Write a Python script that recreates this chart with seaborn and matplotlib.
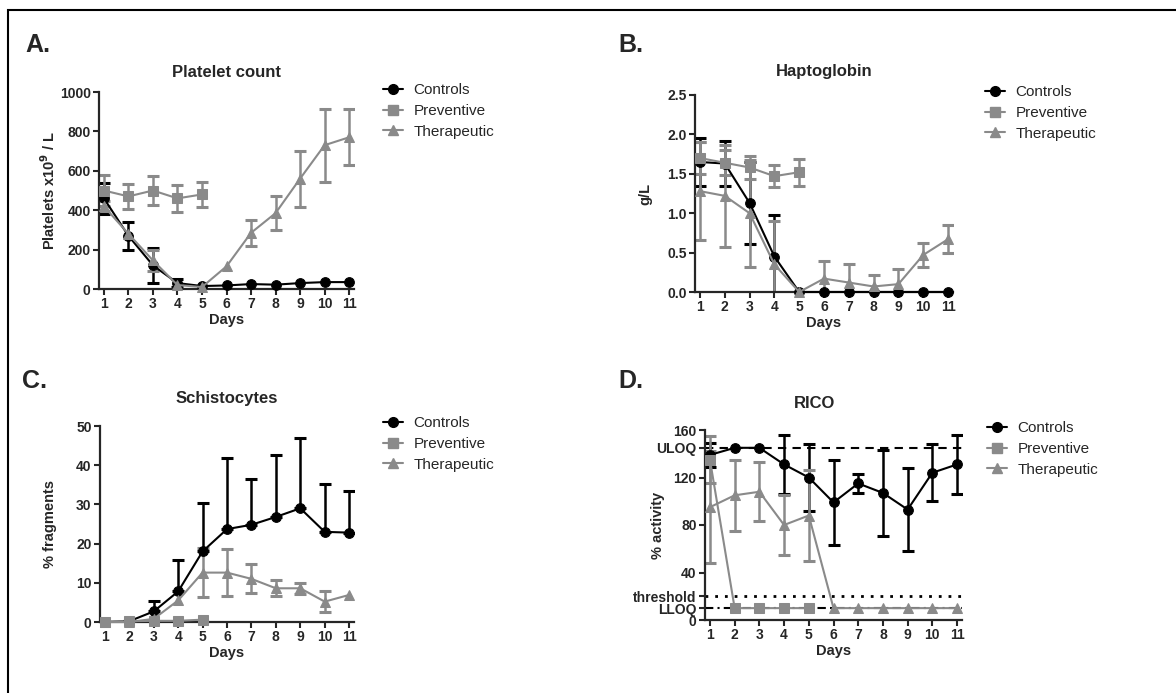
import matplotlib
matplotlib.use('Agg')
import matplotlib.pyplot as plt
from matplotlib.lines import Line2D
from matplotlib.patches import Rectangle
import seaborn as sns
import numpy as np

sns.set_style('ticks')
plt.rcParams['font.family'] = ['Liberation Sans', 'DejaVu Sans']

days = list(range(1, 12))
days_prev = list(range(1, 6))
groups = ['Controls', 'Preventive', 'Therapeutic']

# A. Platelet count (x10^9/L), mean and SD
plt_ctrl = [460, 270, 120, 30, 15, 18, 25, 22, 30, 35, 35]
plt_ctrl_sd = [80, 70, 90, 22, np.nan, np.nan, np.nan, np.nan, np.nan, np.nan, np.nan]
plt_prev = [500, 470, 500, 460, 480]
plt_prev_sd = [80, 65, 75, 68, 62]
plt_ther = [420, 280, 145, 20, 10, 115, 285, 385, 560, 730, 770]
plt_ther_sd = [25, np.nan, 55, np.nan, np.nan, np.nan, 65, 88, 142, 185, 143]

# B. Haptoglobin (g/L)
hp_ctrl = [1.65, 1.63, 1.13, 0.45, 0, 0, 0, 0, 0, 0, 0]
hp_ctrl_sd = [0.30, 0.29, 0.52, 0.53, np.nan, np.nan, np.nan, np.nan, np.nan, np.nan, np.nan]
hp_prev = [1.70, 1.64, 1.58, 1.47, 1.52]
hp_prev_sd = [0.20, 0.16, 0.15, 0.14, 0.17]
hp_ther = [1.28, 1.22, 1.00, 0.35, 0.0, 0.17, 0.12, 0.07, 0.10, 0.47, 0.67]
hp_ther_sd = [0.62, 0.65, 0.68, 0.55, np.nan, 0.22, 0.23, 0.14, 0.19, 0.15, 0.18]

# C. Schistocytes (% fragments), controls only show upper error
sc_ctrl = [0, 0.2, 2.7, 7.8, 18, 23.7, 24.8, 26.8, 29, 23, 22.8]
sc_ctrl_up = [np.nan, np.nan, 2.6, 7.9, 12.3, 18.2, 11.6, 15.9, 18, 12.3, 10.5]
sc_prev = [0, 0.2, 0.3, 0.3, 0.6]
sc_ther = [0, 0, 0.8, 5.5, 12.6, 12.6, 11, 8.6, 8.6, 5.2, 6.9]
sc_ther_sd = [np.nan, np.nan, np.nan, np.nan, 6.2, 6.0, 3.7, 2.0, 1.4, 2.7, np.nan]

# D. RICO (% activity)
rc_ctrl = [139, 145, 145, 131, 120, 99, 115, 107, 93, 124, 131]
rc_ctrl_sd = [10, np.nan, np.nan, 25, 28, 36, 8, 36, 35, 24, 25]
rc_prev = [135, 10, 10, 10, 10]
rc_prev_sd = [20, np.nan, np.nan, np.nan, np.nan]
rc_ther = [95, 105, 108, 80, 88, 10, 10, 10, 10, 10, 10]
rc_ther_sd = [47, 30, 25, 25, 38, np.nan, np.nan, np.nan, np.nan, np.nan, np.nan]
uloq, threshold, lloq = 145, 20, 10

BLACK = '#000000'
GREY = '#8a8a8a'
colors = {'Controls': BLACK, 'Preventive': GREY, 'Therapeutic': GREY}
markers = {'Controls': 'o', 'Preventive': 's', 'Therapeutic': '^'}


def draw_series(ax, x, y, name, err=None):
    c = colors[name]
    x = np.asarray(x, float)
    y = np.asarray(y, float)
    if err is not None:
        if isinstance(err, tuple):
            lo, hi = (np.asarray(e, float) for e in err)
        else:
            lo = hi = np.asarray(err, float)
        m = ~(np.isnan(lo) & np.isnan(hi))
        ax.errorbar(x[m], y[m], yerr=[np.nan_to_num(lo[m]), np.nan_to_num(hi[m])],
                    fmt='none', ecolor=c, elinewidth=1.8, capsize=4, capthick=2.2, zorder=2)
    sns.lineplot(x=x, y=y, ax=ax, color=c, marker=markers[name], markersize=7,
                 markeredgecolor=c, linewidth=1.5, clip_on=False, zorder=3,
                 legend=False, errorbar=None)


def style_axis(ax, ylim, yticks, ylabel, label_x):
    ax.set_xlim(0.8, 11.2)
    ax.set_ylim(*ylim)
    ax.set_xticks(days)
    ax.set_yticks(yticks)
    for s in ['top', 'right']:
        ax.spines[s].set_visible(False)
    for s in ['left', 'bottom']:
        ax.spines[s].set_linewidth(1.6)
    ax.tick_params(direction='out', length=4, width=1.5, labelsize=10, pad=2)
    for t in ax.get_xticklabels() + ax.get_yticklabels():
        t.set_fontweight('bold')
    ax.set_xlabel('Days', fontsize=10.5, fontweight='bold', labelpad=1)
    ax.set_ylabel(ylabel, fontsize=10.5, fontweight='bold')
    ax.yaxis.set_label_coords(label_x, 0.5)


def add_legend(ax, x, y):
    handles = [Line2D([], [], color=colors[g], marker=markers[g], markersize=7,
                      markeredgecolor=colors[g], lw=1.5) for g in groups]
    ax.legend(handles, groups, loc='upper left', bbox_to_anchor=(x, y),
              bbox_transform=fig.transFigure, frameon=False, fontsize=11,
              handlelength=1.3, handletextpad=0.7, labelspacing=0.45,
              borderpad=0, borderaxespad=0)


W, H = 1176, 693
fig = plt.figure(figsize=(W / 100, H / 100), dpi=100, facecolor='white')


def px_axes(x0, y0, x1, y1):
    return fig.add_axes([x0 / W, 1 - y1 / H, (x1 - x0) / W, (y1 - y0) / H])


# Panel A
ax_a = px_axes(99, 92, 354, 289)
draw_series(ax_a, days, plt_ctrl, 'Controls', plt_ctrl_sd)
draw_series(ax_a, days_prev, plt_prev, 'Preventive', plt_prev_sd)
draw_series(ax_a, days, plt_ther, 'Therapeutic', plt_ther_sd)
style_axis(ax_a, (0, 1000), [0, 200, 400, 600, 800, 1000],
           r'Platelets x10$^{\mathbf{9}}$ / L', -0.16)
add_legend(ax_a, 383 / W, 1 - 83 / H)

# Panel B
ax_b = px_axes(695, 95, 953, 292)
draw_series(ax_b, days, hp_ctrl, 'Controls', hp_ctrl_sd)
draw_series(ax_b, days_prev, hp_prev, 'Preventive', hp_prev_sd)
draw_series(ax_b, days, hp_ther, 'Therapeutic', hp_ther_sd)
style_axis(ax_b, (0, 2.5), [0, 0.5, 1.0, 1.5, 2.0, 2.5], 'g/L', -0.167)
ax_b.set_yticklabels(['0.0', '0.5', '1.0', '1.5', '2.0', '2.5'], fontweight='bold')
add_legend(ax_b, 985 / W, 1 - 85 / H)

# Panel C
ax_c = px_axes(100, 426, 354, 622)
draw_series(ax_c, days, sc_ctrl, 'Controls', (np.zeros(11), sc_ctrl_up))
draw_series(ax_c, days_prev, sc_prev, 'Preventive')
draw_series(ax_c, days, sc_ther, 'Therapeutic', sc_ther_sd)
style_axis(ax_c, (0, 50), [0, 10, 20, 30, 40, 50], '% fragments', -0.17)
add_legend(ax_c, 383 / W, 1 - 416 / H)

# Panel D
ax_d = px_axes(705, 430, 962, 620)
ax_d.axhline(uloq, color=BLACK, ls=(0, (4, 3)), lw=1.5, zorder=1)
ax_d.axhline(threshold, color=BLACK, ls=(0, (1, 2.5)), lw=2, zorder=1)
ax_d.axhline(lloq, color=BLACK, ls=(0, (4, 2, 1, 2)), lw=1.5, zorder=1)
draw_series(ax_d, days, rc_ctrl, 'Controls', rc_ctrl_sd)
draw_series(ax_d, days_prev, rc_prev, 'Preventive', rc_prev_sd)
draw_series(ax_d, days, rc_ther, 'Therapeutic', rc_ther_sd)
style_axis(ax_d, (0, 160), [0, lloq, threshold, 40, 80, 120, uloq, 160], '% activity', -0.156)
ax_d.set_yticklabels(['0', 'LLOQ', 'threshold', '40', '80', '120', 'ULOQ', '160'],
                     fontweight='bold')
add_legend(ax_d, 987 / W, 1 - 421 / H)

# titles and panel letters
for txt, x, y in [('Platelet count', 227, 77), ('Haptoglobin', 824, 76),
                  ('Schistocytes', 227, 403), ('RICO', 815, 408)]:
    fig.text(x / W, 1 - y / H, txt, ha='center', va='baseline',
             fontsize=12, fontweight='bold')
for txt, x, y in [('A.', 25, 52), ('B.', 618, 52), ('C.', 22, 388), ('D.', 618, 388)]:
    fig.text(x / W, 1 - y / H, txt, ha='left', va='baseline',
             fontsize=18, fontweight='bold')

# outer frame (top and left edges visible)
fig.add_artist(Rectangle((8 / W, -0.1), 1.5, (1 - 10 / H) + 0.1, transform=fig.transFigure,
                         fill=False, lw=1.5, edgecolor=BLACK, clip_on=False))

fig.savefig('out.png', dpi=100)
